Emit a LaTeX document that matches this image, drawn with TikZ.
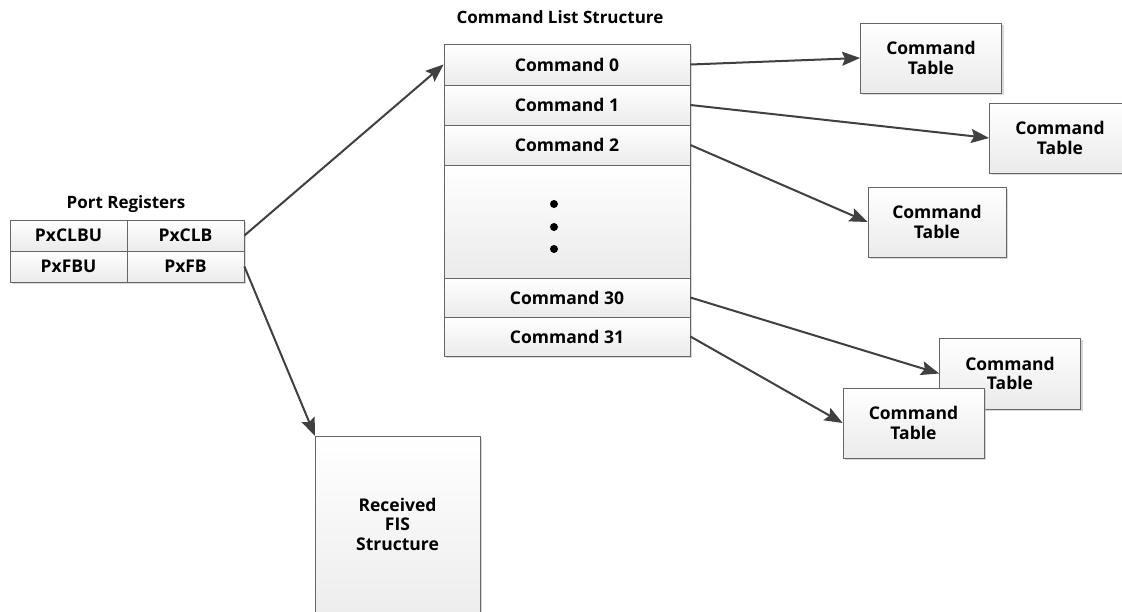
\documentclass[tikz,border=0pt]{standalone}
\usepackage{fontspec}
\setmainfont{Open Sans}
\usetikzlibrary{arrows.meta,shadows}
\tikzset{
  cell/.style={draw=black!60, line width=0.8pt, top color=white, bottom color=black!8,
    shading angle=0, font=\bfseries\fontsize{17.5}{19.5}\selectfont, inner sep=0pt,
    align=center, anchor=center},
  shbox/.style={cell, drop shadow={shadow xshift=2pt, shadow yshift=-2pt, fill=black!25, opacity=0.6}},
  title/.style={font=\bfseries\fontsize{17}{19}\selectfont, inner sep=0pt},
  conn/.style={draw=black!75, line width=2pt, -{Stealth[length=18pt, width=14pt, inset=3pt]}},
  dotmark/.style={circle, fill=black, inner sep=0pt, minimum size=8pt}
}
\begin{document}
\begin{tikzpicture}[x=1pt, y=-1pt]
\clip (0,0) rectangle (1122,611);
\fill[white] (0,0) rectangle (1122,611);

% Port registers
\node[title] (prt) at (126,204) {Port Registers};
\node[shbox, minimum width=234pt, minimum height=62pt] (preg) at (127,251) {};
\node[cell, minimum width=117pt, minimum height=31pt] (clbu) at (68.5,235.5) {PxCLBU};
\node[cell, minimum width=117pt, minimum height=31pt] (clb) at (185.5,235.5) {PxCLB};
\node[cell, minimum width=117pt, minimum height=31pt] (fbu) at (68.5,266.5) {PxFBU};
\node[cell, minimum width=117pt, minimum height=31pt] (fb) at (185.5,266.5) {PxFB};

% Command list
\node[title] (clt) at (560,17) {Command List Structure};
\node[shbox, minimum width=246pt, minimum height=312pt] (clist) at (567,200) {};
\node[cell, minimum width=246pt, minimum height=41pt] (cmd0) at (567,64.5) {Command 0};
\node[cell, minimum width=246pt, minimum height=40pt] (cmd1) at (567,105) {Command 1};
\node[cell, minimum width=246pt, minimum height=40pt] (cmd2) at (567,145) {Command 2};
\node[cell, minimum width=246pt, minimum height=113pt] (gap) at (567,221.5) {};
\node[cell, minimum width=246pt, minimum height=39pt] (cmd30) at (567,297.5) {Command 30};
\node[cell, minimum width=246pt, minimum height=39pt] (cmd31) at (567,336.5) {Command 31};
\node[dotmark] (d1) at (554,204) {};
\node[dotmark] (d2) at (554,227) {};
\node[dotmark] (d3) at (554,249) {};

% Command tables
\node[shbox, minimum width=141pt, minimum height=70pt] (ct0) at (931,58) {Command\\Table};
\node[shbox, minimum width=141pt, minimum height=70pt] (ct1) at (1060,138) {Command\\Table};
\node[shbox, minimum width=138pt, minimum height=70pt] (ct2) at (937,222) {Command\\Table};
\node[shbox, minimum width=141pt, minimum height=71pt] (ct30) at (1010,373.5) {Command\\Table};
\node[shbox, minimum width=141pt, minimum height=70pt] (ct31) at (913.5,423) {Command\\Table};

% Received FIS
\node[shbox, minimum width=165pt, minimum height=200pt, anchor=north west] (fis) at (315,436) {};
\node[font=\bfseries\fontsize{17.5}{19.5}\selectfont, align=center, inner sep=0pt] (fist) at (397.5,524) {Received\\FIS\\Structure};

% Connectors
\draw[conn] (clb.east) -- (cmd0.west);
\draw[conn] (fb.east) -- (fis.north west);
\draw[conn] (cmd0.east) -- (ct0.west);
\draw[conn] (cmd1.east) -- (ct1.west);
\draw[conn] (cmd2.east) -- (ct2.west);
\draw[conn] (cmd30.east) -- (ct30.west);
\draw[conn] (cmd31.east) -- (ct31.west);
\end{tikzpicture}
\end{document}
